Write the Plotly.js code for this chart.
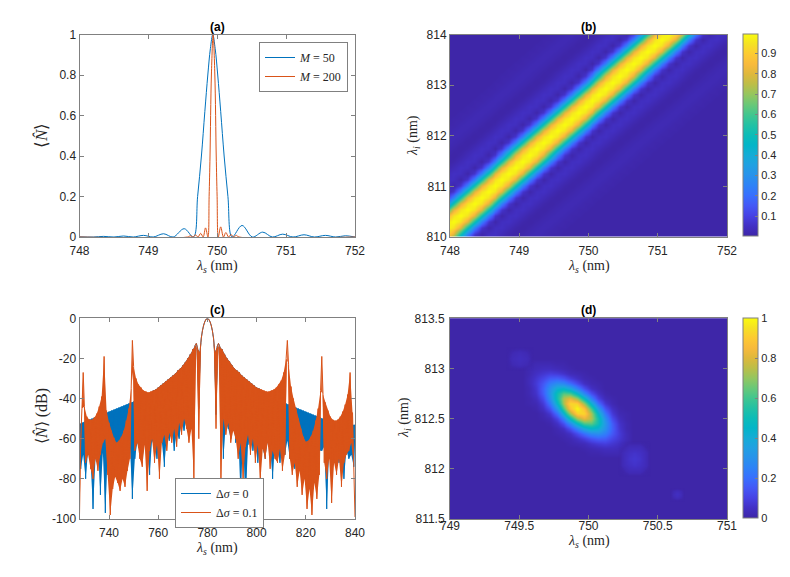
<!DOCTYPE html>
<html><head><meta charset="utf-8">
<script src="https://cdn.plot.ly/plotly-3.0.1.min.js"></script>
<style>html,body{margin:0;padding:0;background:#fff}#chart{width:790px;height:577px}</style>
</head><body><div id="chart"></div>
<script>
// ---------- (a) mean photon number vs signal wavelength ----------
const m50Wavelength = [748, 748.2, 748.35, 748.5, 748.64, 748.78, 748.93, 749.07, 749.22, 749.36, 749.52, 749.655, 749.715, 749.77, 749.82, 749.863, 749.9, 749.935, 749.97, 750.007, 750.05, 750.10, 750.155, 750.215, 750.36, 750.51, 750.66, 750.80, 750.95, 751.10, 751.26, 751.41, 751.57, 751.72, 751.86, 752];
const m50Photons    = [0.001, 0, 0.003, 0, 0.005, 0, 0.008, 0, 0.016, 0, 0.041, 0, 0.2, 0.4, 0.62, 0.8, 0.93, 1.0, 0.93, 0.8, 0.62, 0.4, 0.2, 0, 0.057, 0, 0.024, 0, 0.014, 0, 0.011, 0, 0.008, 0, 0.006, 0];
const m200Wavelength = [748, 749.57, 749.61, 749.645, 749.685, 749.72, 749.76, 749.795, 749.83, 749.865, 749.882, 749.895, 749.915, 749.94, 749.965, 749.985, 749.998, 750.015, 750.05, 750.09, 750.125, 750.165, 750.2, 750.24, 750.275, 750.315, 752];
const m200Photons    = [0, 0, 0.006, 0, 0.01, 0, 0.018, 0, 0.045, 0, 0.2, 0.4, 0.8, 1.0, 0.8, 0.4, 0.2, 0, 0.05, 0, 0.022, 0, 0.012, 0, 0.008, 0, 0];
const seriesNamesA = ['<i>M</i> = 50', '<i>M</i> = 200'];

// ---------- (c) spectrum in dB, sampled every 0.5 nm from 728 nm to 840 nm (alternating local maxima / minima) ----------
const specStart = 728, specStep = 0.5;
const dsigma0dB = [
 -52.5,-75,-52,-68,-51.5,-80,-51,-66,-50.5,-72,
 -50,-95,-49.5,-70,-49,-64,-48.5,-88,-48,-67,
 -47.5,-97,-47,-66,-46.5,-78,-46,-63,-45.5,-70,
 -45,-65,-44.5,-82,-44,-68,-43.5,-62,-43,-75,
 -42.5,-64,-42,-90,-41.5,-70,-41,-62,-40,-66,
 -39.5,-72,-39,-60,-38.5,-65,-37.5,-78,-37,-61,
 -36,-64,-35.5,-70,-34.5,-59,-33.5,-62,-32.5,-74,
 -31.5,-58,-30.5,-61,-29.5,-55,-28.5,-66,-27.5,-57,
 -26,-60,-25,-52,-23.5,-56,-22,-50,-20,-58,
 -18,-48,-15.5,-42,-13.5,-12.5,-15,-45,-17,-10,
 -6,-3.3,-1.5,-0.4,0,-0.4,-1.5,-3.3,-6,-10,
 -17,-48,-14,-12.5,-14,-46,-15.5,-70,-18,-52,
 -20,-55,-21.5,-60,-23.5,-52,-25,-62,-26,-56,
 -27,-88,-28.5,-60,-29.5,-92,-30.5,-63,-31.5,-58,
 -32.5,-66,-33.5,-60,-34.5,-72,-35,-62,-36,-65,
 -37,-70,-37.5,-61,-38.5,-64,-39,-80,-40,-62,
 -40.5,-66,-41,-72,-41.5,-63,-42,-68,-42.5,-61,
 -43,-70,-43.5,-64,-44,-75,-44.5,-62,-45,-66,
 -45.5,-68,-46,-63,-46.5,-73,-47,-65,-47.5,-70,
 -48,-62,-48.5,-78,-49,-66,-49.5,-66,-50,-64,
 -50.5,-95,-51,-66,-51,-75,-51.5,-63,-51.5,-68,
 -52,-72,-52,-65,-52.5,-80,-52.5,-66,-53,-70,
 -53,-68,-53,-74,-53
];
const dsigma01dB = [
 -98,-60,-45,-27,-44,-72,-49,-68,-50.5,-75,
 -50.5,-80,-49.5,-70,-47.5,-76,-44,-68,-39,-62,
 -19,-60,-46,-78,-52,-98,-56,-85,-59.5,-79,
 -62,-82,-61,-86,-59,-80,-56,-84,-51,-76,
 -45,-70,-35,-11,-24,-66,-30,-62,-33,-70,
 -34.5,-74,-36,-63,-36.5,-86,-37,-66,-36.5,-60,
 -36,-72,-35.5,-63,-34.5,-80,-33.5,-62,-32.5,-58,
 -31.5,-66,-30.5,-57,-29.5,-62,-28.5,-55,-27.5,-64,
 -26,-52,-25,-58,-23.5,-50,-22,-55,-20,-62,
 -18,-55,-15.5,-80,-13.5,-12.5,-15,-60,-17,-10,
 -6,-3.3,-1.5,-0.4,0,-0.4,-1.5,-3.3,-6,-10,
 -17,-55,-14,-12.5,-14,-80,-15.5,-50,-18,-58,
 -20,-52,-21.5,-62,-23.5,-56,-25,-60,-26,-70,
 -27,-62,-28.5,-80,-29.5,-64,-30.5,-58,-31.5,-68,
 -32.5,-60,-33.5,-72,-34.5,-63,-35,-82,-35.5,-65,
 -36,-70,-36.5,-62,-36.5,-75,-36,-66,-35.5,-70,
 -34.5,-72,-33,-65,-31,-76,-27,-68,-20,-11,
 -23,-70,-34,-78,-40,-72,-45,-84,-50,-76,
 -55,-88,-59,-80,-61.5,-95,-61,-85,-59,-98,
 -56,-82,-51,-90,-45,-78,-36,-19,-38,-72,
 -42,-80,-46,-70,-49,-92,-50.5,-72,-51,-78,
 -50.5,-70,-49,-84,-46.5,-72,-43,-68,-38,-66,
 -27,-62,-47,-74,-99
];
const seriesNamesC = ['Δ<i>σ</i> = 0', 'Δ<i>σ</i> = 0.1'];
const cTickVals = [0, -20, -40, -60, -80, -100];
const cTickText = ['0', '-20', '-40', '-60', '-80', '-100'];

// ---------- (b) joint spectrum ridge: cross-section read along lambda_s every 0.1 nm (offset -1.8 .. 1.8 nm) ----------
const ridgeProfile = [0, 0.01, 0.01, 0.02, 0.025, 0.02, 0.01, 0, 0.01, 0.03, 0.05, 0.045, 0.01, 0.07, 0.25, 0.52, 0.8, 0.95,
                      1.0, 0.95, 0.8, 0.52, 0.25, 0.07, 0.01, 0.045, 0.05, 0.03, 0.01, 0, 0.01, 0.02, 0.025, 0.02, 0.01, 0.01, 0];
// ridge centre passes (749.55, 812.1) with slope 1.2 nm/nm: one row step of 0.12 nm in lambda_i moves it one 0.1 nm column
const ridgeS0 = 747.55, ridgeDS = 0.1, ridgeI0 = 809.94, ridgeDI = 0.12, ridgeRows = 36, ridgeCols = 48, ridgeCentreCol0 = 2;
const bTickVals = [0.1, 0.2, 0.3, 0.4, 0.5, 0.6, 0.7, 0.8, 0.9];

// ---------- (d) joint spectral intensity, main lobe grid (rows: lambda_i 812.10 -> 813.10, cols: lambda_s 749.52 -> 750.32) ----------
const lobeS0 = 749.52, lobeDS = 0.05, lobeI0 = 812.10, lobeDI = 0.05;
const lobeZ = [
 [0,0,0,0,0,0,0,0,0,0,0,0,0,0,0,0,0],
 [0,0,0,0,0,0,0,0,0,0,0.01,0.01,0.02,0.02,0.02,0.01,0],
 [0,0,0,0,0,0,0,0,0,0.01,0.02,0.03,0.04,0.04,0.03,0.02,0],
 [0,0,0,0,0,0,0,0.01,0.02,0.03,0.06,0.08,0.09,0.07,0.05,0.02,0],
 [0,0,0,0,0,0,0.01,0.02,0.05,0.09,0.14,0.17,0.16,0.11,0.07,0.03,0],
 [0,0,0,0,0,0.01,0.02,0.05,0.12,0.20,0.27,0.29,0.24,0.15,0.08,0.03,0],
 [0,0,0,0,0,0.02,0.05,0.13,0.25,0.38,0.45,0.42,0.30,0.17,0.07,0.02,0],
 [0,0,0,0,0.01,0.05,0.13,0.27,0.46,0.61,0.63,0.51,0.32,0.16,0.06,0.02,0],
 [0,0,0,0.01,0.03,0.10,0.25,0.48,0.71,0.82,0.74,0.52,0.29,0.12,0.04,0.01,0],
 [0,0,0,0.02,0.07,0.20,0.43,0.71,0.92,0.93,0.73,0.45,0.22,0.08,0.02,0.01,0],
 [0,0,0.01,0.05,0.14,0.33,0.61,0.88,1,0.88,0.61,0.33,0.14,0.05,0.01,0,0],
 [0,0.01,0.02,0.08,0.22,0.45,0.73,0.93,0.92,0.71,0.43,0.20,0.07,0.02,0,0,0],
 [0,0.01,0.04,0.12,0.29,0.52,0.74,0.82,0.71,0.48,0.25,0.10,0.03,0.01,0,0,0],
 [0,0.02,0.06,0.16,0.32,0.51,0.63,0.61,0.46,0.27,0.13,0.05,0.01,0,0,0,0],
 [0,0.02,0.07,0.17,0.30,0.42,0.45,0.38,0.25,0.13,0.05,0.02,0,0,0,0,0],
 [0,0.03,0.08,0.15,0.24,0.29,0.27,0.20,0.12,0.05,0.02,0.01,0,0,0,0,0],
 [0,0.03,0.07,0.11,0.16,0.17,0.14,0.09,0.05,0.02,0.01,0,0,0,0,0,0],
 [0,0.02,0.05,0.07,0.09,0.08,0.06,0.03,0.02,0.01,0,0,0,0,0,0,0],
 [0,0.02,0.03,0.04,0.04,0.03,0.02,0.01,0,0,0,0,0,0,0,0,0],
 [0,0.01,0.02,0.02,0.02,0.01,0.01,0,0,0,0,0,0,0,0,0,0],
 [0,0,0,0,0,0,0,0,0,0,0,0,0,0,0,0,0]
];
// faint side spots
const spot1Z = [[0,0,0,0,0],[0,0.02,0.03,0.02,0],[0,0.03,0.04,0.03,0],[0,0.02,0.03,0.02,0],[0,0,0,0,0]];
const spot1Grid = {x0: 749.40, dx: 0.05, y0: 812.98, dy: 0.06};
const spot2Z = [[0,0,0,0,0,0,0],[0,0.01,0.03,0.03,0.03,0.01,0],[0,0.03,0.05,0.06,0.05,0.03,0],[0,0.03,0.06,0.07,0.06,0.03,0],[0,0.03,0.05,0.06,0.05,0.03,0],[0,0.01,0.03,0.03,0.03,0.01,0],[0,0,0,0,0,0,0]];
const spot2Grid = {x0: 750.21, dx: 0.04, y0: 811.92, dy: 0.06};
const spot3Z = [[0,0,0,0,0],[0,0.02,0.03,0.02,0],[0,0.03,0.05,0.03,0],[0,0.02,0.03,0.02,0],[0,0,0,0,0]];
const spot3Grid = {x0: 750.59, dx: 0.025, y0: 811.68, dy: 0.035};
const dTickVals = [0, 0.2, 0.4, 0.6, 0.8, 1];

// ---------- styles ----------
const BLUE = 'rgb(0,114,189)', ORANGE = 'rgb(217,83,25)';
const parulaTail = [
 [0.05,'rgb(66,48,196)'],[0.10,'rgb(70,66,228)'],[0.15,'rgb(68,88,246)'],
 [0.20,'rgb(56,111,254)'],[0.25,'rgb(46,130,247)'],[0.30,'rgb(40,146,235)'],[0.35,'rgb(33,160,226)'],
 [0.40,'rgb(21,172,214)'],[0.45,'rgb(3,181,200)'],[0.50,'rgb(12,188,183)'],[0.55,'rgb(35,193,164)'],
 [0.60,'rgb(65,198,143)'],[0.65,'rgb(105,200,120)'],[0.70,'rgb(148,198,95)'],[0.75,'rgb(188,190,72)'],
 [0.80,'rgb(222,184,60)'],[0.85,'rgb(248,186,60)'],[0.90,'rgb(253,202,50)'],[0.95,'rgb(245,225,36)'],
 [1.00,'rgb(249,251,14)']
];
const PARULA0 = 'rgb(62,38,168)';
const parula = [[0, PARULA0]].concat(parulaTail);
const parulaFade = [[0,'rgba(62,38,168,0)'],[0.02,'rgba(64,42,180,1)']].concat(parulaTail);
const AXC = 'rgb(128,128,128)', TXT = '#262626';
const SANS = 'Liberation Sans, Arial, sans-serif', SERIF = 'Liberation Serif, Times New Roman, serif';

// build the ridge table from the read cross-section
const ridgeZ = [];
for (let r = 0; r < ridgeRows; r++) {
  const row = [];
  const centre = r + ridgeCentreCol0;
  for (let c = 0; c < ridgeCols; c++) {
    const k = c - centre + (ridgeProfile.length - 1) / 2;
    row.push(k >= 0 && k < ridgeProfile.length ? ridgeProfile[k] : 0);
  }
  ridgeZ.push(row);
}

function spot(z, g) {
  return {type:'heatmap', z:z, x0:g.x0, dx:g.dx, y0:g.y0, dy:g.dy, zsmooth:'best', colorscale:parulaFade, zmin:0, zmax:1,
          showscale:false, xaxis:'x4', yaxis:'y4', hoverinfo:'skip'};
}
// (c): the dense oscillation is shown as a band filled between its maxima and minima, with the trace itself on top
function every2(arr, p) { return arr.filter(function(_, i) { return i % 2 === p; }); }
function band(arr, color) {
  return [
    {type:'scatter', mode:'lines', x0:specStart + specStep, dx:2*specStep, y:every2(arr, 1), line:{width:0, color:color}, showlegend:false, hoverinfo:'skip', xaxis:'x3', yaxis:'y3'},
    {type:'scatter', mode:'lines', x0:specStart, dx:2*specStep, y:every2(arr, 0), line:{width:0, color:color}, fill:'tonexty', fillcolor:color, showlegend:false, hoverinfo:'skip', xaxis:'x3', yaxis:'y3'}
  ];
}

const data = [
  {type:'scatter', mode:'lines', x:m50Wavelength, y:m50Photons, name:seriesNamesA[0], line:{color:BLUE, width:1, shape:'spline'}, xaxis:'x', yaxis:'y', legend:'legend'},
  {type:'scatter', mode:'lines', x:m200Wavelength, y:m200Photons, name:seriesNamesA[1], line:{color:ORANGE, width:1, shape:'spline'}, xaxis:'x', yaxis:'y', legend:'legend'},
  {type:'heatmap', z:ridgeZ, x0:ridgeS0, dx:ridgeDS, y0:ridgeI0, dy:ridgeDI, zsmooth:'best', colorscale:parula, zmin:0.003, zmax:0.995,
   xaxis:'x2', yaxis:'y2', hoverinfo:'skip',
   colorbar:{x:743/790, xanchor:'left', xpad:0, y:1-135/577, yanchor:'middle', ypad:0, lenmode:'pixels', len:202, thickness:15,
             outlinecolor:AXC, outlinewidth:1, ticks:'inside', ticklen:3, tickcolor:AXC, tickvals:bTickVals,
             tickfont:{family:SANS, size:11, color:TXT}}}
].concat(
  band(dsigma0dB, BLUE),
  [{type:'scatter', mode:'lines', x0:specStart, dx:specStep, y:dsigma0dB, name:seriesNamesC[0], line:{color:BLUE, width:1, simplify:false}, xaxis:'x3', yaxis:'y3', legend:'legend2'}],
  band(dsigma01dB, ORANGE),
  [{type:'scatter', mode:'lines', x0:specStart, dx:specStep, y:dsigma01dB, name:seriesNamesC[1], line:{color:ORANGE, width:1, simplify:false}, xaxis:'x3', yaxis:'y3', legend:'legend2'}],
  [{type:'heatmap', z:lobeZ, x0:lobeS0, dx:lobeDS, y0:lobeI0, dy:lobeDI, zsmooth:'best', colorscale:parula, zmin:0, zmax:1,
    xaxis:'x4', yaxis:'y4', hoverinfo:'skip',
    colorbar:{x:743/790, xanchor:'left', xpad:0, y:1-418/577, yanchor:'middle', ypad:0, lenmode:'pixels', len:200, thickness:15,
              outlinecolor:AXC, outlinewidth:1, ticks:'inside', ticklen:3, tickcolor:AXC, tickvals:dTickVals,
              tickfont:{family:SANS, size:11, color:TXT}}},
   spot(spot1Z, spot1Grid), spot(spot2Z, spot2Grid), spot(spot3Z, spot3Grid)]
);

function ax(extra) {
  return Object.assign({showline:true, linecolor:AXC, linewidth:1, mirror:'allticks', ticks:'inside', ticklen:4, tickcolor:AXC,
    showgrid:false, zeroline:false, tickfont:{family:SANS, size:12, color:TXT}, fixedrange:true}, extra);
}
const LX = [79.5/790, 355/790], RX = [450/790, 727/790];
const TY = [1-237/577, 1-34.5/577], BY = [1-519/577, 1-318.3/577];

const ann = [];
function title(t, x, y) { ann.push({text:'<b>'+t+'</b>', x:x, y:y, xref:'paper', yref:'paper', xanchor:'center', yanchor:'bottom', yshift:-1, showarrow:false, font:{family:SANS, size:12, color:'#000'}}); }
function label(t, x, y, rot, size) { ann.push({text:t, x:x, y:y, xref:'paper', yref:'paper', xanchor:'center', yanchor:'middle', textangle:rot||0, showarrow:false, font:{family:SERIF, size:size||14, color:TXT}}); }
title('(a)', (LX[0]+LX[1])/2, TY[1]);
title('(b)', (RX[0]+RX[1])/2, TY[1]);
title('(c)', (LX[0]+LX[1])/2, BY[1]);
title('(d)', (RX[0]+RX[1])/2, BY[1]);
const lamS = '<i>λ</i><sub><i>s</i></sub> (nm)', lamI = '<i>λ</i><sub><i>i</i></sub> (nm)';
label(lamS, (LX[0]+LX[1])/2, 1-266/577);
label(lamS, (RX[0]+RX[1])/2, 1-266/577);
label(lamS, (LX[0]+LX[1])/2, 1-548/577);
label(lamS, (RX[0]+RX[1])/2, 1-541/577);
label('⟨<i>N̂</i>⟩', 41/790, 1-136/577, -90, 17);
label('⟨<i>N̂</i>⟩ (dB)', 41/790, 1-416/577, -90, 16);
label(lamI, 413/790, 1-136/577, -90);
label(lamI, 404/790, 1-417/577, -90);

const layout = {
  width:790, height:577, margin:{l:0, r:0, t:0, b:0}, paper_bgcolor:'#fff', plot_bgcolor:'#fff', showlegend:true,
  xaxis: ax({domain:LX, anchor:'y', range:[748,752], dtick:1, tick0:748, ticklabelstandoff:3}),
  yaxis: ax({domain:TY, anchor:'x', range:[0,1], dtick:0.2, tick0:0}),
  xaxis2: ax({domain:RX, anchor:'y2', range:[748,752], dtick:1, tick0:748, ticklabelstandoff:3}),
  yaxis2: ax({domain:TY, anchor:'x2', range:[810,814], dtick:1, tick0:810}),
  xaxis3: ax({domain:LX, anchor:'y3', range:[728,840], dtick:20, tick0:740, ticklabelstandoff:3}),
  yaxis3: ax({domain:BY, anchor:'x3', range:[-100,0], tickvals:cTickVals, ticktext:cTickText}),
  xaxis4: ax({domain:RX, anchor:'y4', range:[749,751], dtick:0.5, tick0:749, ticklabelstandoff:-4}),
  yaxis4: ax({domain:BY, anchor:'x4', range:[811.5,813.5], dtick:0.5, tick0:811.5, ticklabelstandoff:2}),
  legend: {x:348/790, xanchor:'right', y:1-42/577, yanchor:'top', bgcolor:'#fff', bordercolor:AXC, borderwidth:1, traceorder:'normal',
           font:{family:SERIF, size:12, color:TXT}, itemwidth:30, tracegroupgap:0},
  legend2: {x:175/790, xanchor:'left', y:1-478/577, yanchor:'top', bgcolor:'#fff', bordercolor:AXC, borderwidth:1, traceorder:'normal',
           font:{family:SERIF, size:12, color:TXT}, itemwidth:30, tracegroupgap:0},
  shapes: [{type:'rect', xref:'x4 domain', yref:'y4 domain', x0:0, x1:1, y0:0, y1:1, fillcolor:PARULA0, line:{width:0}, layer:'below'}],
  annotations: ann
};

Plotly.newPlot('chart', data, layout, {displayModeBar:false, staticPlot:true});
</script>
</body></html>
